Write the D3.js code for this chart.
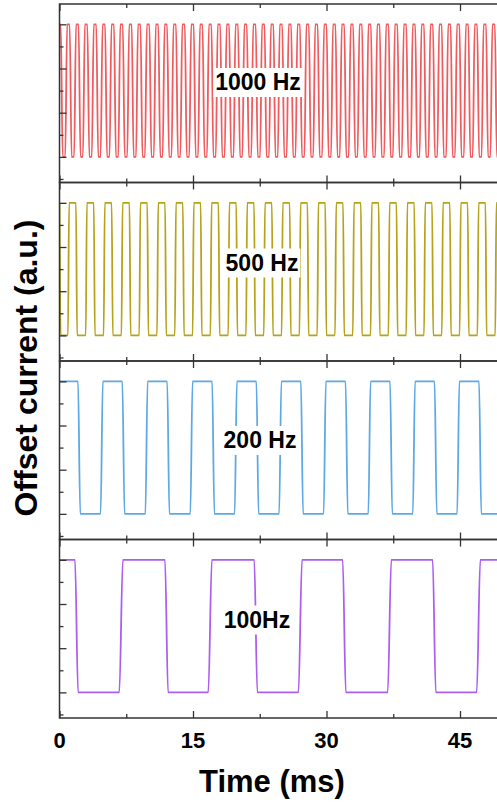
<!DOCTYPE html>
<html>
  <head>
    <meta charset="utf-8" />
    <title>Offset current square waves</title>
    <style>
      body {
        margin: 0;
        background: #fff;
      }
      text {
        font-family: "Liberation Sans", Arial, sans-serif;
        font-weight: bold;
      }
    </style>
  </head>
  <body>
    <div id="chart"></div>

    <script src="https://d3js.org/d3.v7.min.js"></script>
    <script>
      // values (time in ms, level in a.u.)
      var xTicks = [0, 15, 30, 45];
      var xMinor = [7.5, 22.5, 37.5];
      var yMajor = [0, 1, 2, 3];
      var yMinor = [-0.5, 0.5, 1.5, 2.5];
      var levels = [0, 3]; // low, high

      var labels = ["1000 Hz", "500 Hz", "200 Hz", "100Hz"];
      var colors = ["#ef5b5e", "#b5a41b", "#5ea9e4", "#ab5ff0"];

      // 1000 Hz: centre of each top (ms)
      var peaks1000 = [0, 1.0, 2.0, 2.99, 3.99, 4.98, 5.98, 6.97, 7.97, 8.96, 9.96,
        10.96, 11.95, 12.95, 13.94, 14.94, 15.93, 16.93, 17.92, 18.92, 19.92,
        20.91, 21.91, 22.9, 23.9, 24.89, 25.89, 26.88, 27.88, 28.87, 29.87,
        30.87, 31.86, 32.86, 33.85, 34.85, 35.84, 36.84, 37.83, 38.83, 39.83,
        40.82, 41.82, 42.81, 43.81, 44.8, 45.8, 46.79, 47.79, 48.78, 49.78];

      // 500 Hz: start of rising / falling edges (ms)
      var rise500 = [0.95, 2.95, 4.96, 6.96, 8.96, 10.96, 12.96, 14.96, 16.96,
        18.96, 20.96, 22.96, 24.96, 26.96, 28.96, 30.96, 32.96, 34.96, 36.96,
        38.96, 40.96, 42.96, 44.96, 46.96, 48.96];
      var fall500 = [0.0, 1.85, 3.85, 5.86, 7.86, 9.86, 11.86, 13.86, 15.86,
        17.86, 19.86, 21.86, 23.86, 25.86, 27.86, 29.86, 31.86, 33.86, 35.86,
        37.86, 39.86, 41.86, 43.86, 45.86, 47.86, 49.86];

      // 200 Hz
      var rise200 = [4.62, 9.65, 14.7, 19.68, 24.68, 29.68, 34.7, 39.7, 44.68, 49.7];
      var fall200 = [2.08, 7.06, 12.1, 17.15, 22.12, 27.12, 32.14, 37.14, 42.14, 47.14];

      // 100 Hz
      var rise100 = [6.72, 16.72, 26.85, 36.88, 46.88];
      var fall100 = [1.74, 11.85, 21.88, 31.82, 41.93];

      var width = 497,
        height = 805;
      var left = 59.5,
        top0 = 4,
        panelH = 178.5,
        xMax = 50;

      var svg = d3
        .select("#chart")
        .append("svg")
        .attr("width", width)
        .attr("height", height);

      var x = d3
        .scaleLinear()
        .domain([0, xMax])
        .range([left, left + xMax * 8.9]);

      // square wave from edge times, starting high
      function wave(rises, falls, dur) {
        var ev = rises
          .filter(function (t) { return t >= 0; })
          .map(function (t) { return { t: t, v: levels[1], d: dur[1] }; })
          .concat(falls.map(function (t) { return { t: t, v: levels[0], d: dur[0] }; }))
          .sort(function (a, b) { return a.t - b.t; });
        var pts = [[0, levels[1]]];
        var cur = levels[1];
        ev.forEach(function (e) {
          if (e.t > 0) pts.push([e.t, cur]);
          pts.push([e.t + e.d, e.v]);
          cur = e.v;
        });
        pts.push([xMax, cur]);
        return pts;
      }

      var series = [
        wave(
          peaks1000.map(function (p) { return p - 0.36; }),
          peaks1000.map(function (p) { return p + 0.14; }),
          [0.22, 0.22]
        ),
        wave(rise500, fall500, [0.13, 0.13]),
        wave(rise200, fall200, [0.25, 0.25]),
        wave(rise100, fall100, [0.35, 0.4]),
      ];

      svg
        .append("defs")
        .append("clipPath")
        .attr("id", "clip")
        .append("rect")
        .attr("x", left)
        .attr("y", 0)
        .attr("width", width - left)
        .attr("height", panelH);

      series.forEach(function (pts, i) {
        var py = top0 + i * panelH;
        var y = d3
          .scaleLinear()
          .domain([-0.58, 3.46])
          .range([panelH, 0]);

        var g = svg.append("g").attr("transform", "translate(0," + py + ")");

        var line = d3
          .line()
          .x(function (d) { return x(d[0]); })
          .y(function (d) { return y(d[1]); })
          .curve(d3.curveMonotoneX);

        g.append("path")
          .datum(pts)
          .attr("clip-path", "url(#clip)")
          .attr("fill", "none")
          .attr("stroke", colors[i])
          .attr("stroke-width", 1.8)
          .attr("stroke-linejoin", "round")
          .attr("d", line);

        // inward ticks on the left
        g.append("g")
          .attr("transform", "translate(" + left + ",0)")
          .call(d3.axisRight(y).tickValues(yMajor).tickSize(7).tickFormat(""))
          .call(function (a) { a.select(".domain").remove(); });
        g.append("g")
          .attr("transform", "translate(" + left + ",0)")
          .call(d3.axisRight(y).tickValues(yMinor).tickSize(4).tickFormat(""))
          .call(function (a) { a.select(".domain").remove(); });

        // ticks on top and bottom edges, pointing in
        g.append("g")
          .call(d3.axisBottom(x).tickValues(xTicks).tickSize(7).tickFormat(""))
          .call(function (a) { a.select(".domain").remove(); });
        g.append("g")
          .call(d3.axisBottom(x).tickValues(xMinor).tickSize(4).tickFormat(""))
          .call(function (a) { a.select(".domain").remove(); });
        g.append("g")
          .attr("transform", "translate(0," + panelH + ")")
          .call(d3.axisTop(x).tickValues(xTicks).tickSize(7).tickFormat(""))
          .call(function (a) { a.select(".domain").remove(); });
        g.append("g")
          .attr("transform", "translate(0," + panelH + ")")
          .call(d3.axisTop(x).tickValues(xMinor).tickSize(4).tickFormat(""))
          .call(function (a) { a.select(".domain").remove(); });

        g.append("rect")
          .attr("x", left)
          .attr("y", 0)
          .attr("width", x(xMax) - left)
          .attr("height", panelH)
          .attr("fill", "none")
          .attr("stroke", "#333")
          .attr("stroke-width", 1.5);

        // frequency label on a white box
        var lab = g.append("g");
        var txt = lab
          .append("text")
          .attr("x", [258, 262, 260, 257][i])
          .attr("y", [86, 88, 87, 88][i])
          .attr("text-anchor", "middle")
          .attr("font-size", 23)
          .attr("fill", "#000")
          .text(labels[i]);
        var bb = txt.node().getBBox();
        lab
          .insert("rect", "text")
          .attr("x", bb.x - 2)
          .attr("y", bb.y - 1)
          .attr("width", bb.width + 4)
          .attr("height", bb.height + 3)
          .attr("fill", "#fff");
      });

      svg.selectAll(".tick line").attr("stroke", "#333").attr("stroke-width", 1.3);

      var bottom = top0 + 4 * panelH;

      svg
        .selectAll(".xlab")
        .data(xTicks)
        .enter()
        .append("text")
        .attr("class", "xlab")
        .attr("x", function (d) { return x(d); })
        .attr("y", bottom + 30)
        .attr("text-anchor", "middle")
        .attr("font-size", 22)
        .text(function (d) { return d; });

      svg
        .append("text")
        .attr("x", 272)
        .attr("y", 792)
        .attr("text-anchor", "middle")
        .attr("font-size", 31)
        .text("Time (ms)");

      svg
        .append("text")
        .attr("transform", "translate(37,368) rotate(-90)")
        .attr("text-anchor", "middle")
        .attr("font-size", 32)
        .text("Offset current (a.u.)");
    </script>
  </body>
</html>
